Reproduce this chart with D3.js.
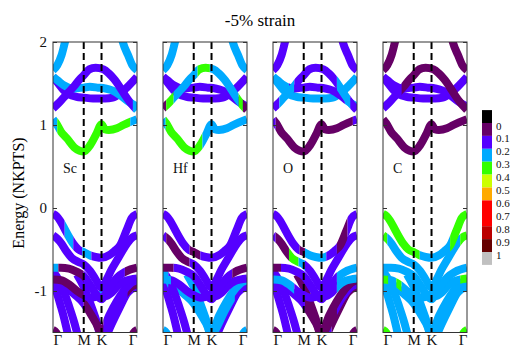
<!DOCTYPE html>
<html>
<head>
<meta charset="utf-8">
<script src="https://cdn.jsdelivr.net/npm/d3@7"></script>
<style>
  body { margin: 0; background: #fff; }
  text { font-family: "Liberation Serif", "Times New Roman", Times, serif; }
</style>
</head>
<body>
<svg id="chart" width="510" height="347"></svg>
<script>
// ---- data ----
const title = "-5% strain";
const yTitle = "Energy (NKPTS)";
const atoms = ["Sc", "Hf", "O", "C"];
const kLabels = ["Γ", "M", "K", "Γ"];
const kTicks = [0, 0.577, 0.911, 1.577];
const yTicks = [2, 1, 0, -1];

// colour bar: bin edges, colours, labels
const cbEdges = [-0.1, 0, 0.1, 0.2, 0.3, 0.4, 0.5, 0.6, 0.8, 0.9, 1.0, 1.1];
const cbColors = ["#000000", "#660066", "#5500ff", "#00aaff", "#33ff00", "#ccff00",
                  "#ffaa00", "#ff0000", "#bb0000", "#660000", "#c0c0c0"];
const cbTicks = [0, 0.1, 0.2, 0.3, 0.4, 0.5, 0.6, 0.7, 0.8, 0.9, 1];

// bands: [k, energy]  (Γ=0, M=0.577, K=0.911, Γ=1.577)
const cbT = [[0,1.66],[0.08,1.72],[0.16,1.84],[0.225,2.0],[0.3,2.2],[0.577,2.6],[0.911,2.6],[1.24,2.2],[1.31,2.0],[1.41,1.84],[1.49,1.72],[1.577,1.66]];
const cb1 = [[0,1.07],[0.06,1.02],[0.15,0.92],[0.26,0.84],[0.4,0.73],[0.5,0.69],[0.577,0.68],[0.7,0.76],[0.82,0.9],[0.911,1.01],[0.97,0.95],[1.05,0.94],[1.2,0.96],[1.32,1.0],[1.577,1.07]];
const cbP = [[0,1.2],[0.1,1.26],[0.2,1.33],[0.3,1.4],[0.4,1.47],[0.5,1.55],[0.577,1.6],[0.68,1.67],[0.8,1.69],[0.95,1.67],[1.05,1.62],[1.15,1.55],[1.25,1.46],[1.35,1.36],[1.45,1.27],[1.577,1.18]];
const cbQ = [[0,1.58],[0.1,1.53],[0.2,1.48],[0.375,1.44],[0.577,1.45],[0.69,1.46],[0.85,1.45],[0.98,1.44],[1.1,1.42],[1.26,1.36],[1.4,1.29],[1.577,1.22]];
const cbR = [[0,1.58],[0.1,1.5],[0.2,1.42],[0.3,1.37],[0.44,1.34],[0.577,1.33],[0.75,1.32],[0.98,1.32],[1.12,1.33],[1.26,1.38],[1.4,1.46],[1.577,1.58]];
const vb1 = [[0,-0.07],[0.07,-0.1],[0.13,-0.15],[0.25,-0.29],[0.38,-0.43],[0.477,-0.5],[0.577,-0.53],[0.69,-0.57],[0.8,-0.59],[0.911,-0.6],[1.05,-0.57],[1.15,-0.52],[1.26,-0.45],[1.38,-0.27],[1.48,-0.12],[1.577,-0.07]];
const vb2 = [[0,-0.33],[0.08,-0.37],[0.16,-0.43],[0.25,-0.52],[0.35,-0.6],[0.477,-0.65],[0.577,-0.68],[0.7,-0.76],[0.8,-0.86],[0.911,-0.96],[1.0,-0.87],[1.1,-0.74],[1.2,-0.63],[1.3,-0.52],[1.4,-0.42],[1.5,-0.35],[1.577,-0.33]];
const vb3 = [[0,-0.72],[0.15,-0.72],[0.3,-0.73],[0.45,-0.77],[0.577,-0.82],[0.7,-0.93],[0.8,-1.03],[0.911,-1.1],[1.0,-1.02],[1.1,-0.92],[1.2,-0.84],[1.35,-0.77],[1.577,-0.72]];
const vb4 = [[0,-0.86],[0.15,-0.87],[0.3,-0.92],[0.45,-1.0],[0.577,-1.05],[0.7,-1.08],[0.8,-1.07],[0.911,-1.04],[1.0,-1.06],[1.1,-1.02],[1.2,-0.95],[1.35,-0.88],[1.577,-0.85]];
const vb5 = [[0,-0.76],[0.1,-0.86],[0.2,-1.0],[0.3,-1.18],[0.4,-1.38],[0.46,-1.52],[0.5,-1.6]];
const vb6 = [[0,-0.9],[0.07,-1.02],[0.14,-1.17],[0.21,-1.33],[0.28,-1.52],[0.32,-1.62]];
const vb7 = [[0,-0.84],[0.2,-0.93],[0.4,-1.04],[0.577,-1.15],[0.7,-1.27],[0.8,-1.38],[0.911,-1.5],[1.05,-1.3],[1.2,-1.12],[1.35,-0.98],[1.47,-0.9],[1.577,-0.87]];
const vb8 = [[0.45,-0.8],[0.577,-0.95],[0.7,-1.15],[0.8,-1.33],[0.911,-1.55],[1.0,-1.45],[1.15,-1.25],[1.3,-1.08],[1.45,-0.96],[1.577,-0.92]];
const vb9 = [[0.95,-1.62],[1.1,-1.4],[1.25,-1.2],[1.4,-1.02],[1.577,-0.95]];
const vb10 = [[0,-1.47],[0.06,-1.5],[0.12,-1.58],[0.18,-1.7]];
const vb11 = [[1.397,-1.7],[1.457,-1.58],[1.517,-1.5],[1.577,-1.47]];

// atom weights along each band: [kStart, weight] runs, same order as bandList
const wSc = [
  [[0,0.25]],                                    // cbT
  [[0,0.25],[0.08,0.35],[1.45,0.25]],            // cb1
  [[0,0.15],[1.5,0.25]],                         // cbP
  [[0,0.25]],                                    // cbQ
  [[0,0.15]],                                    // cbR
  [[0,0.15],[0.22,0.25],[0.38,0.15],[0.55,0.25],[0.72,0.15]], // vb1
  [[0,0.15]],                                    // vb2
  [[0,0.25],[0.1,0.05],[0.577,0.15],[1.35,0.05]],// vb3
  [[0,0.05],[0.577,0.15],[0.85,0.25],[1.0,0.15]],// vb4
  [[0,0.15]], [[0,0.15]],                        // vb5, vb6
  [[0,0.15],[0.577,0.05],[0.95,0.15]],           // vb7
  [[0,0.15],[1.4,0.05]],                         // vb8
  [[0,0.15]], [[0,0.05]], [[0,0.05]]             // vb9, vb10, vb11
];
const wHf = [
  [[0,0.25]],
  [[0,0.25],[0.05,0.35],[0.74,0.25]],
  [[0,0.05],[0.06,0.35],[0.2,0.25],[0.65,0.35],[0.88,0.25],[1.42,0.35],[1.5,0.05]],
  [[0,0.15]],
  [[0,0.15]],
  [[0,0.15],[0.5,0.05],[0.7,0.15]],
  [[0,0.15],[0.06,0.05],[0.5,0.15]],
  [[0,0.05],[0.2,0.15],[1.3,0.05]],
  [[0,0.25],[0.15,0.15]],
  [[0,0.25],[0.1,0.15]], [[0,0.15]],
  [[0,0.25]],
  [[0,0.25],[1.35,0.15]],
  [[0,0.15]], [[0,0.25]], [[0,0.25]]
];
const wO = [
  [[0,0.15]],
  [[0,0.15],[0.05,0.05],[1.5,0.15]],
  [[0,0.15],[0.12,0.25],[0.4,0.15],[1.2,0.25],[1.45,0.15]],
  [[0,0.25],[0.3,0.15],[1.35,0.25]],
  [[0,0.25]],
  [[0,0.15],[0.5,0.05],[0.6,0.25],[1.0,0.15],[1.2,0.05],[1.4,0.15]],
  [[0,0.15],[0.05,0.05],[0.3,0.35],[0.48,0.25],[0.6,0.15]],
  [[0,0.05],[0.15,0.15],[1.2,0.25]],
  [[0,0.25],[0.4,0.15],[1.2,0.25]],
  [[0,0.15]], [[0,0.15]],
  [[0,0.15],[0.6,0.05]],
  [[0,0.05],[1.2,0.15]],
  [[0,0.15],[1.1,0.05]], [[0,0.05]], [[0,0.05]]
];
const wC = [
  [[0,0.05]],
  [[0,0.05]],
  [[0,0.15],[0.35,0.05]],
  [[0,0.15]],
  [[0,0.15]],
  [[0,0.35],[0.69,0.25],[1.26,0.35]],
  [[0,0.35],[0.08,0.25],[1.45,0.35]],
  [[0,0.25]],
  [[0,0.35],[0.1,0.25],[0.25,0.35],[0.35,0.25],[1.45,0.35]],
  [[0,0.25]], [[0,0.25]],
  [[0,0.25]],
  [[0,0.25]],
  [[0,0.25]], [[0,0.35]], [[0,0.35]]
];

const bandList = [cbT, cb1, cbP, cbQ, cbR, vb1, vb2, vb3, vb4, vb5, vb6, vb7, vb8, vb9, vb10, vb11];
const weightList = [wSc, wHf, wO, wC];

// ---- scales ----
const svg = d3.select("#chart");
const panelX = d3.scaleBand().domain(atoms).range([53, 467]).paddingInner(26 / 110);
const kx = d3.scaleLinear().domain([0, 1.577]).range([0, panelX.bandwidth()]);
const y = d3.scaleLinear().domain([-1.5, 2]).range([332.5, 42]);
const color = d3.scaleThreshold().domain(cbEdges.slice(1, -1)).range(cbColors);
const line = d3.line().x(d => kx(d[0])).y(d => y(d[1])).curve(d3.curveMonotoneX);

const pw = panelX.bandwidth();
const ph = y(-1.5) - y(2);

atoms.forEach((atom, p) => {
  const g = svg.append("g").attr("transform", `translate(${panelX(atom)},0)`);
  const defs = g.append("defs");
  const weights = weightList[p];

  // draw deep valence bands first, conduction last
  d3.range(bandList.length).reverse().forEach(b => {
    const runs = weights[b];
    runs.forEach((r, i) => {
      const k0 = r[0];
      const k1 = i + 1 < runs.length ? runs[i + 1][0] : kx.domain()[1];
      const id = `clip-${p}-${b}-${i}`;
      defs.append("clipPath").attr("id", id)
        .append("rect")
        .attr("x", kx(k0)).attr("width", kx(k1) - kx(k0))
        .attr("y", y(2)).attr("height", ph);
      g.append("path")
        .attr("d", line(bandList[b]))
        .attr("clip-path", `url(#${id})`)
        .attr("fill", "none")
        .attr("stroke", color(r[1]))
        .attr("stroke-width", 8)
        .attr("stroke-linejoin", "round");
    });
  });

  // dashed M and K lines
  g.selectAll("line.hs")
    .data(kTicks.slice(1, 3))
    .join("line")
    .attr("class", "hs")
    .attr("x1", d => kx(d)).attr("x2", d => kx(d))
    .attr("y1", y(2)).attr("y2", y(-1.5))
    .attr("stroke", "#000")
    .attr("stroke-width", 2)
    .attr("stroke-dasharray", "7,4");

  // left / right axes with inward ticks
  const left = g.append("g").call(
    d3.axisLeft(y).tickValues(yTicks).tickSizeInner(-4).tickSizeOuter(0).tickPadding(6)
      .tickFormat(p === 0 ? (d => String(d)) : () => "")
  );
  const right = g.append("g").attr("transform", `translate(${pw},0)`).call(
    d3.axisRight(y).tickValues(yTicks).tickSizeInner(-4).tickSizeOuter(0).tickFormat(() => "")
  );
  [left, right].forEach(a => {
    a.select(".domain").remove();
    a.selectAll(".tick line").attr("stroke", "#333");
    a.attr("font-family", "Liberation Serif").attr("font-size", 15);
    a.selectAll("text").attr("fill", "#111");
  });

  // bottom k labels
  const bottom = g.append("g").attr("transform", `translate(0,${y(-1.5)})`).call(
    d3.axisBottom(kx).tickValues(kTicks).tickSize(0).tickPadding(2)
      .tickFormat((d, i) => kLabels[i])
  );
  bottom.select(".domain").remove();
  bottom.attr("font-family", "Liberation Serif").attr("font-size", 15);
  bottom.selectAll("text")
    .attr("fill", "#111")
    .attr("text-anchor", (d, i) => i === 0 ? "start" : (i === kTicks.length - 1 ? "end" : "middle"));

  // frame
  g.append("rect")
    .attr("x", 0).attr("y", y(2))
    .attr("width", pw).attr("height", ph)
    .attr("fill", "none").attr("stroke", "#333").attr("stroke-width", 1);

  // atom label
  g.append("text")
    .attr("x", 10).attr("y", 173)
    .attr("font-size", 14)
    .attr("fill", "#111")
    .text(atom);
});

// title and y label
svg.append("text")
  .attr("x", 260).attr("y", 26)
  .attr("text-anchor", "middle")
  .attr("font-size", 17)
  .text(title);

svg.append("text")
  .attr("transform", "translate(24,193) rotate(-90)")
  .attr("text-anchor", "middle")
  .attr("font-size", 16)
  .text(yTitle);

// colour bar
const cbY = d3.scaleLinear().domain([0, 1]).range([123, 252]);
const cb = svg.append("g").attr("transform", "translate(482,0)");
cb.selectAll("rect")
  .data(cbColors)
  .join("rect")
  .attr("x", 0).attr("width", 10)
  .attr("y", (d, i) => cbY(cbEdges[i]))
  .attr("height", (d, i) => cbY(cbEdges[i + 1]) - cbY(cbEdges[i]))
  .attr("fill", d => d);
cb.selectAll("text")
  .data(cbTicks)
  .join("text")
  .attr("x", 14)
  .attr("y", d => cbY(d) + 6.5)
  .attr("font-size", 11)
  .attr("fill", "#111")
  .text(d => String(d));
</script>
</body>
</html>
